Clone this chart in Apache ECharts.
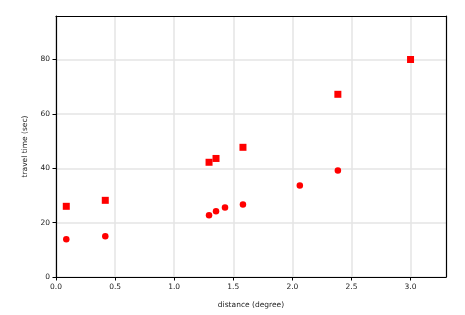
<!DOCTYPE html>
<html>
<head>
<meta charset="utf-8">
<script src="https://cdn.jsdelivr.net/npm/echarts@6/dist/echarts.min.js"></script>
<style>html,body{margin:0;padding:0;background:#fff;}#c{width:465px;height:315px;}</style>
</head>
<body>
<div id="c"></div>
<script>
var squareX = [0.087, 0.417, 1.295, 1.354, 1.582, 2.385, 3.0];
var squareY = [26.0, 28.2, 42.2, 43.6, 47.7, 67.2, 80.0];
var circleX = [0.087, 0.417, 1.295, 1.354, 1.43, 1.582, 2.063, 2.385];
var circleY = [13.9, 15.0, 22.7, 24.2, 25.6, 26.7, 33.7, 39.2];
var xTicks = [0.0, 0.5, 1.0, 1.5, 2.0, 2.5, 3.0];
var yTicks = [0, 20, 40, 60, 80];

function zip(a, b) { return a.map(function (v, i) { return [v, b[i]]; }); }
var font = 'DejaVu Sans';
var chart = echarts.init(document.getElementById('c'), null, {renderer: 'canvas'});
var frame = {show: true, onZero: false, lineStyle: {color: '#000', width: 1.2}};
chart.setOption({
  animation: false,
  backgroundColor: '#fff',
  grid: {left: 56, top: 16, width: 390, height: 261, show: false},
  xAxis: [{
    type: 'value', min: 0, max: 3.3, interval: 0.5,
    name: 'distance (degree)', nameLocation: 'middle', nameGap: 24,
    nameTextStyle: {fontFamily: font, fontSize: 7.5, color: '#222'},
    axisLine: frame,
    axisTick: {show: true, length: 3.5, lineStyle: {color: '#000'}},
    axisLabel: {fontFamily: font, fontSize: 7.5, color: '#222', margin: 6, showMaxLabel: false,
      formatter: function (v) { return xTicks.indexOf(+v.toFixed(1)) >= 0 ? v.toFixed(1) : ''; }},
    splitLine: {show: true, showMaxLine: false, lineStyle: {color: '#e5e5e5', width: 1.5}}
  }, {
    type: 'value', position: 'top', min: 0, max: 3.3, interval: 0.5,
    axisLine: frame, axisTick: {show: false}, axisLabel: {show: false}, splitLine: {show: false}
  }],
  yAxis: [{
    type: 'value', min: 0, max: 96, interval: 20,
    name: 'travel time (sec)', nameLocation: 'middle', nameGap: 27,
    nameTextStyle: {fontFamily: font, fontSize: 7.5, color: '#222'},
    axisLine: frame,
    axisTick: {show: true, length: 3.5, lineStyle: {color: '#000'}},
    axisLabel: {fontFamily: font, fontSize: 7.5, color: '#222', margin: 6, showMaxLabel: false,
      formatter: function (v) { return yTicks.indexOf(v) >= 0 ? String(v) : ''; }},
    splitLine: {show: true, showMaxLine: false, lineStyle: {color: '#e5e5e5', width: 1.5}}
  }, {
    type: 'value', position: 'right', min: 0, max: 96, interval: 20,
    axisLine: frame, axisTick: {show: false}, axisLabel: {show: false}, splitLine: {show: false}
  }],
  series: [
    {type: 'scatter', symbol: 'rect', symbolSize: 7, itemStyle: {color: '#ff0000', opacity: 1}, data: zip(squareX, squareY)},
    {type: 'scatter', symbol: 'circle', symbolSize: 6.5, itemStyle: {color: '#ff0000', opacity: 1}, data: zip(circleX, circleY)}
  ]
});
</script>
</body>
</html>
